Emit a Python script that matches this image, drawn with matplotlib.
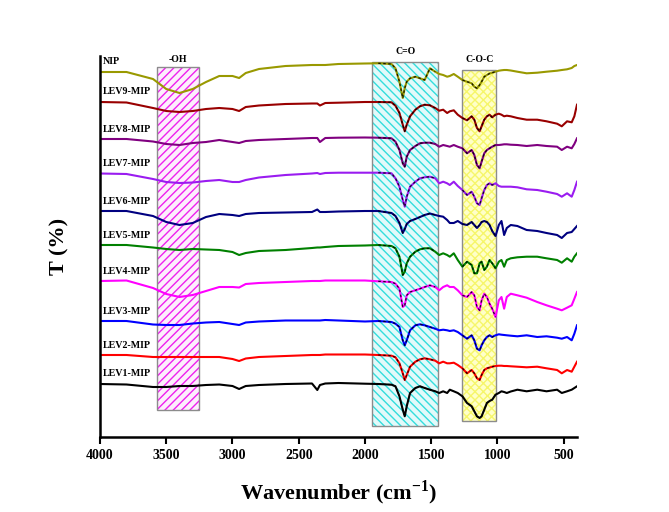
import numpy as np
import matplotlib
matplotlib.use("Agg")
import matplotlib.pyplot as plt
from matplotlib.patches import Rectangle

plt.rcParams['font.family'] = ['Liberation Serif', 'DejaVu Serif']
plt.rcParams['font.weight'] = 'bold'
plt.rcParams['mathtext.fontset'] = 'custom'
plt.rcParams['mathtext.rm'] = 'Liberation Serif:bold'
plt.rcParams['mathtext.bf'] = 'Liberation Serif:bold'
plt.rcParams['hatch.linewidth'] = 1.0

# Wavenumber grid (cm-1) shared by all spectra
wavenumber = [4000, 3800, 3600, 3500, 3400, 3300, 3200, 3100, 3000, 2950, 2900, 2800,
              2600, 2400, 2360, 2340, 2300, 2200, 2000,
              1900, 1800, 1770, 1740, 1715, 1700, 1685, 1660, 1620, 1585, 1550, 1510,
              1470, 1440, 1410, 1380, 1360, 1330, 1300, 1265, 1230, 1195, 1175, 1155,
              1135, 1120, 1100, 1080, 1060, 1040, 1015, 990, 970, 950, 930, 900, 850,
              780, 700, 630, 550, 515, 475, 440, 420, 400]

# Relative transmittance of each sample
lev1 = [0, -0.5, -3, -3, -2, -2, -1, -0.5, -2, -5, -2, -1, 0, 0.5, -6, -1, 0.5, 1, 0.3,
        0, -0.7, -2.3, -12.3, -25.7, -32.3, -22.3, -9, -4, -2.3, -4, -5.7, -7.3, -9, -7.3,
        -9, -5.7, -7.3, -9, -12.3, -19, -22.3, -27.3, -32.3, -34, -32.3, -25.7, -19, -17,
        -15.7, -10.7, -9, -7.3, -8, -9, -7.5, -5.7, -7.3, -5.7, -7.3, -5.7, -9, -7.3, -5.7,
        -4, -2.3]
lev2 = [0, 0, -2, -2, -2, -2, -2, -2, -4, -6, -3.5, -2, -1, 0, 0, 0, 0.5, 0.5, 0.5,
        0, -0.7, -2.3, -8.3, -18.3, -25, -20, -11.7, -6.7, -4.3, -3.3, -4.3, -5.7, -8.3,
        -6.7, -8.3, -8.3, -7.7, -10, -13.3, -18.3, -15, -18.3, -23.3, -25, -20, -15, -13.3,
        -12.5, -11.7, -11, -10.7, -10.7, -11, -11, -11.3, -11.7, -12.3, -11.7, -13.3, -15,
        -18.3, -15, -16.7, -11.7, -6.7]
lev3 = [0, 0, -3.5, -4, -4, -2.5, -1.5, -1, -3, -4, -1.5, -0.5, 0.5, 0.5, 0.5, 0.5, 1, 0.5, -0.5,
        0, -1, -2.7, -6, -19.3, -24.3, -19.3, -9.3, -4.3, -3.3, -4.3, -6, -7.7, -9.3, -8.7,
        -9.3, -10, -9.3, -11, -14.3, -17.7, -14.3, -19.3, -27.7, -29.3, -24.3, -19.3, -16,
        -14.3, -16, -14.3, -13.3, -13.7, -14, -14.3, -14.7, -15.3, -14.3, -16, -15.3, -16.7,
        -17.7, -16, -19.3, -12.7, -4.3]
lev4 = [0, 0.5, -7, -13, -16, -14, -10, -6, -6, -6.5, -3, -2, -1, 0, 0, 0, 0.5, 0.5, 0.5,
        -0.3, -1, -2.7, -7.7, -26, -24.3, -14.3, -11, -9.3, -7.7, -6, -4.3, -6, -9.3, -6,
        -4.3, -6, -6, -9.3, -14.3, -16, -11, -14.3, -26, -29.3, -19.3, -12.7, -16, -22.7,
        -27.7, -36, -19.3, -16, -27.7, -16, -12.7, -14.3, -16.7, -21, -24.3, -27.7, -29.3,
        -26.7, -24.3, -17.7, -11]
lev5 = [0, 0, -2.5, -4, -5, -4, -4.5, -5, -7, -10, -8, -6, -5, -3, -2.5, -2.5, -2, -1, -0.5,
        0, -1, -3.3, -11.7, -30, -26.7, -18.3, -11.7, -6.7, -4.3, -3.3, -3.3, -6.7, -10,
        -8.3, -10, -11.7, -8.3, -15, -21.7, -16.7, -20, -28.3, -28.3, -18.3, -16.7, -25,
        -21.7, -15, -18.3, -23.3, -16.7, -15, -21.7, -15, -13.3, -12.3, -11.7, -11.7, -13.3,
        -15, -17.7, -13.3, -16.7, -11.7, -8.3]
lev6 = [0, 0, -5, -11, -14, -12, -6, -3, -4, -5, -3, -2, -1.5, -1, 1.5, -1, -1, -0.5, 0,
        0, -2, -5, -12, -22, -18, -13, -10, -8, -6, -4, -2.5, -4, -5, -5.7, -9, -12, -12,
        -10, -13, -14, -11, -14, -17, -14, -11, -10, -11, -14, -20, -25, -14, -10, -24,
        -17, -14, -15, -19, -20, -22, -24, -27, -22, -21, -18, -15]
lev7 = [-0.5, -1, -6, -9, -10, -9.5, -8, -7, -9, -9, -7, -4.5, -2, -0.5, 0, -1, 0, 0.3, 0.3,
        0.3, -0.3, -5.3, -13.7, -27, -33.7, -23.7, -13.7, -8.7, -5.3, -4.3, -3.7, -5.3,
        -10.3, -8.7, -10.3, -12, -8.7, -13, -17, -22, -18.7, -23.7, -30.3, -32, -25.3, -17,
        -12, -10.3, -12, -10.3, -13, -13.7, -13.7, -13.7, -13.7, -14.3, -16.3, -17, -18.7,
        -21, -23.7, -20.3, -23.7, -17, -8.7]
lev8 = [0, 0, -2.5, -5, -6, -4, -3, -1, -3, -4, -2, -1, 0, 1, 1, -3, 1, 1.3, 1.5,
        1.3, 0.7, -2.7, -11, -24.3, -27.7, -17.7, -11, -7, -4.3, -3.7, -3.7, -5, -7.7, -6,
        -7, -7.7, -6, -7.7, -9.3, -14.3, -11, -16, -26, -29.3, -22.7, -14.3, -11, -9.3,
        -7.7, -6, -6, -5.7, -5.3, -5.3, -5.7, -6, -7, -6, -7, -7.7, -11, -7.7, -9.3, -5, 0.7]
lev9 = [0, -0.5, -6, -9, -10, -9, -7, -6, -7, -9, -5, -3.5, -2, -1.5, -1.5, -3.5, -1, -0.7, 0,
        0, -0.3, -3.7, -11, -22.7, -29.3, -22.7, -14.3, -7.7, -4.3, -2.7, -3.3, -6, -8.7,
        -7.7, -11, -9.3, -8.3, -12.7, -16, -18.3, -14.3, -17.7, -26, -29.3, -24.3, -17.7,
        -14.3, -12.7, -15.3, -12.7, -11.7, -12.7, -14.3, -13.7, -14.3, -16, -17.7, -17.7,
        -19.3, -21.7, -24.3, -19.3, -20.3, -14.3, -2.7]
nip = [0, 0, -7, -17, -21, -17, -10, -4, -4, -6, -1, 3, 6, 7, 7, 7, 7, 8, 8.5,
       8.7, 8, 3.7, -9.7, -26, -16, -9.7, -6.3, -4.7, -6.3, -8, 3.7, 0.3, -2, -3, -4.7,
       -4, -2, -4.7, -8, -9.7, -11.3, -14.7, -16.3, -13, -9.7, -4.7, -3, -1.5, -0.7, 0.3,
       1.3, 1.7, 2, 2, 1.5, 0.3, -1.3, -0.7, 0.3, 1.3, 2, 2.7, 4, 6, 7]

names = ["LEV1-MIP", "LEV2-MIP", "LEV3-MIP", "LEV4-MIP", "LEV5-MIP",
         "LEV6-MIP", "LEV7-MIP", "LEV8-MIP", "LEV9-MIP", "NIP"]
spectra = [lev1, lev2, lev3, lev4, lev5, lev6, lev7, lev8, lev9, nip]
colors = ['#000000', '#ff0000', '#0000ff', '#ff00ff', '#008000',
          '#000080', '#9a1cf0', '#800080', '#990000', '#999900']
offsets = [53, 82, 116, 156, 192, 226, 264, 298, 335, 365]

# Highlighted bands: (label, low, high, bottom, top, face, hatch colour, hatch)
bands = [("-OH", 3252, 3570, 27, 370, '#fdeefd', '#ee22ee', '////'),
         ("C=O", 1447, 1946, 11, 375, '#e2fafa', '#33dddd', '\\\\\\\\'),
         ("C-O-C", 1009, 1266, 16, 367, '#ffffc8', '#f6f66a', 'xxxx')]

wn = np.array(wavenumber)

fig = plt.figure(figsize=(6.69, 5.12), dpi=100)
ax = fig.add_axes([100 / 669, 75 / 512, 477 / 669, 381 / 512])

for label, lo, hi, bot, top, face, hcol, hatch in bands:
    ax.add_patch(Rectangle((lo, bot), hi - lo, top - bot, facecolor=face,
                           edgecolor=hcol, hatch=hatch, lw=0, zorder=1))
    ax.add_patch(Rectangle((lo, bot), hi - lo, top - bot, fill=False,
                           edgecolor='#8c8c8c', lw=1, zorder=1.5))
    ax.text((lo + hi) / 2, top + (8 if label == "-OH" else 11), label,
            ha='center', va='center', fontsize=7, fontweight='bold', clip_on=False)

# Spectra, dashed inside the C=O and C-O-C bands
for name, y, c, off in zip(names, spectra, colors, offsets):
    y = np.array(y) + off
    ax.plot(wn, y, color=c, lw=1.5, zorder=2)
    for lo, hi in [(1447, 1946), (1009, 1266)]:
        m = (wn >= lo) & (wn <= hi)
        ax.plot(wn[m], y[m], color='k', lw=0.9, alpha=0.85, ls=(0, (2, 2)), zorder=3)
    ax.text(3975, off + 10, name, fontsize=7.2, fontweight='bold', ha='left', va='center')

ax.set_xlim(4000, 400)
ax.set_ylim(0, 381)
ax.set_xticks([4000, 3500, 3000, 2500, 2000, 1500, 1000, 500])
ax.set_yticks([])
ax.tick_params(axis='x', direction='out', length=5, width=1.5, labelsize=10)
for lab in ax.get_xticklabels():
    lab.set_fontweight('bold')
ax.spines['top'].set_visible(False)
ax.spines['right'].set_visible(False)
ax.spines['left'].set_linewidth(1.8)
ax.spines['bottom'].set_linewidth(1.8)

ax.set_xlabel(r'Wavenumber (cm$^{-1}$)', fontsize=16, fontweight='bold', labelpad=12)
ax.set_ylabel('T (%)', fontsize=16, fontweight='bold', labelpad=22)

plt.savefig("out.png", dpi=100)
plt.close()
